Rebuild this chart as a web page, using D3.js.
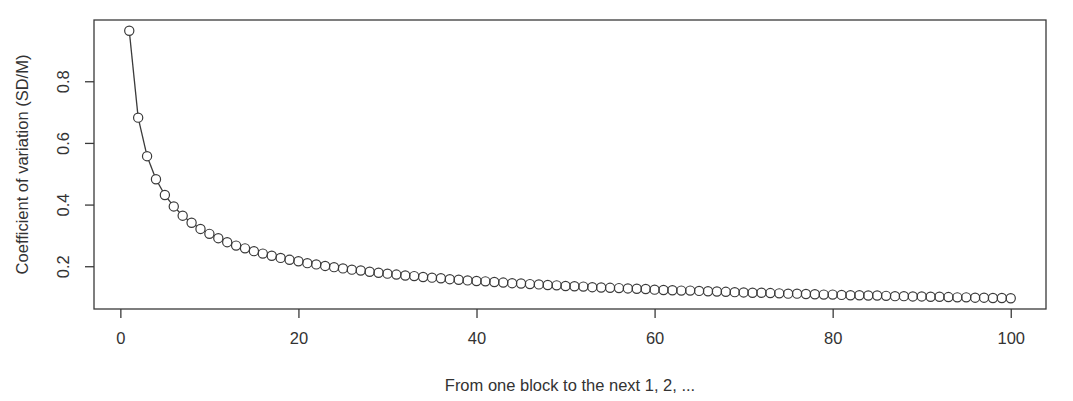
<!DOCTYPE html>
<html><head><meta charset="utf-8">
<script src="https://cdn.jsdelivr.net/npm/d3@7"></script>
<style>
html,body{margin:0;padding:0;background:#fff;}
text{font-family:"Liberation Sans",Arial,Helvetica,sans-serif;fill:#333;}
</style></head>
<body><svg id="c" width="1073" height="401"></svg>
<script>
const blocks = d3.range(1, 101);
const cv = [0.964,0.682,0.557,0.482,0.431,0.394,0.364,0.341,0.321,0.305,
0.291,0.278,0.267,0.258,0.249,0.241,0.234,0.227,0.221,0.216,
0.210,0.206,0.201,0.197,0.193,0.189,0.186,0.182,0.179,0.176,
0.173,0.170,0.168,0.165,0.163,0.161,0.158,0.156,0.154,0.152,
0.151,0.149,0.147,0.145,0.144,0.142,0.141,0.139,0.138,0.136,
0.135,0.134,0.132,0.131,0.130,0.129,0.128,0.127,0.126,0.124,
0.123,0.122,0.121,0.121,0.120,0.119,0.118,0.117,0.116,0.115,
0.114,0.114,0.113,0.112,0.111,0.111,0.110,0.109,0.108,0.108,
0.107,0.106,0.106,0.105,0.105,0.104,0.103,0.103,0.102,0.102,
0.101,0.101,0.100,0.099,0.099,0.098,0.098,0.097,0.097,0.096];
const xTicks = [0,20,40,60,80,100];
const yTicks = [0.2,0.4,0.6,0.8];
const xLabel = "From one block to the next 1, 2, ...";
const yLabel = "Coefficient of variation (SD/M)";

const svg = d3.select("#c");
const L=94, R=1046, T=20, B=309;
const FS = "16.5px";
const xr = 99*0.04, yr=(d3.max(cv)-d3.min(cv))*0.04;
const x = d3.scaleLinear().domain([1-xr, 100+xr]).range([L,R]);
const y = d3.scaleLinear().domain([d3.min(cv)-yr, d3.max(cv)+yr]).range([B,T]);
const col = "#3a3a3a";

svg.append("rect").attr("x",L).attr("y",T).attr("width",R-L).attr("height",B-T)
  .attr("fill","none").attr("stroke",col).attr("stroke-width",1.3);

const xa = svg.append("g").attr("transform",`translate(0,${B})`)
  .call(d3.axisBottom(x).tickValues(xTicks).tickSize(9).tickPadding(14).tickFormat(d3.format("d")));
const ya = svg.append("g").attr("transform",`translate(${L},0)`)
  .call(d3.axisLeft(y).tickValues(yTicks).tickSize(9).tickFormat(d3.format(".1f")));
[xa,ya].forEach(a=>{
  a.attr("font-size",null).attr("font-family",null);
  a.select(".domain").remove();
  a.selectAll("line").attr("stroke",col).attr("stroke-width",1.3);
  a.selectAll("text").style("font-size",FS).attr("fill","#333");
});
xa.selectAll("text").attr("dy","0.71em");
ya.selectAll(".tick text").attr("text-anchor","middle")
  .attr("transform","translate(-31,0) rotate(-90)").attr("x",0).attr("y",0).attr("dy","0.35em");

const r = 4.6;
const pts = blocks.map((b,i)=>[x(b), y(cv[i])]);
const segs = [];
for (let i=0;i<pts.length-1;i++){
  const [x1,y1]=pts[i],[x2,y2]=pts[i+1];
  const dx=x2-x1, dy=y2-y1, len=Math.hypot(dx,dy);
  if (len>2*r) segs.push([x1+dx/len*r, y1+dy/len*r, x2-dx/len*r, y2-dy/len*r]);
}
svg.append("g").selectAll("line").data(segs).join("line")
  .attr("x1",d=>d[0]).attr("y1",d=>d[1]).attr("x2",d=>d[2]).attr("y2",d=>d[3])
  .attr("stroke",col).attr("stroke-width",1.3);
svg.append("g").selectAll("circle").data(blocks).join("circle")
  .attr("cx",(d)=>x(d)).attr("cy",(d,i)=>y(cv[i])).attr("r",r)
  .attr("fill","none").attr("stroke",col).attr("stroke-width",1.2);

svg.append("text").attr("x",(L+R)/2).attr("y",385).attr("dy","0.35em")
  .attr("text-anchor","middle").style("font-size",FS).text(xLabel);
svg.append("text").attr("transform",`translate(22,${(T+B)/2}) rotate(-90)`)
  .attr("dy","0.35em").attr("text-anchor","middle").style("font-size",FS).text(yLabel);
</script></body></html>
